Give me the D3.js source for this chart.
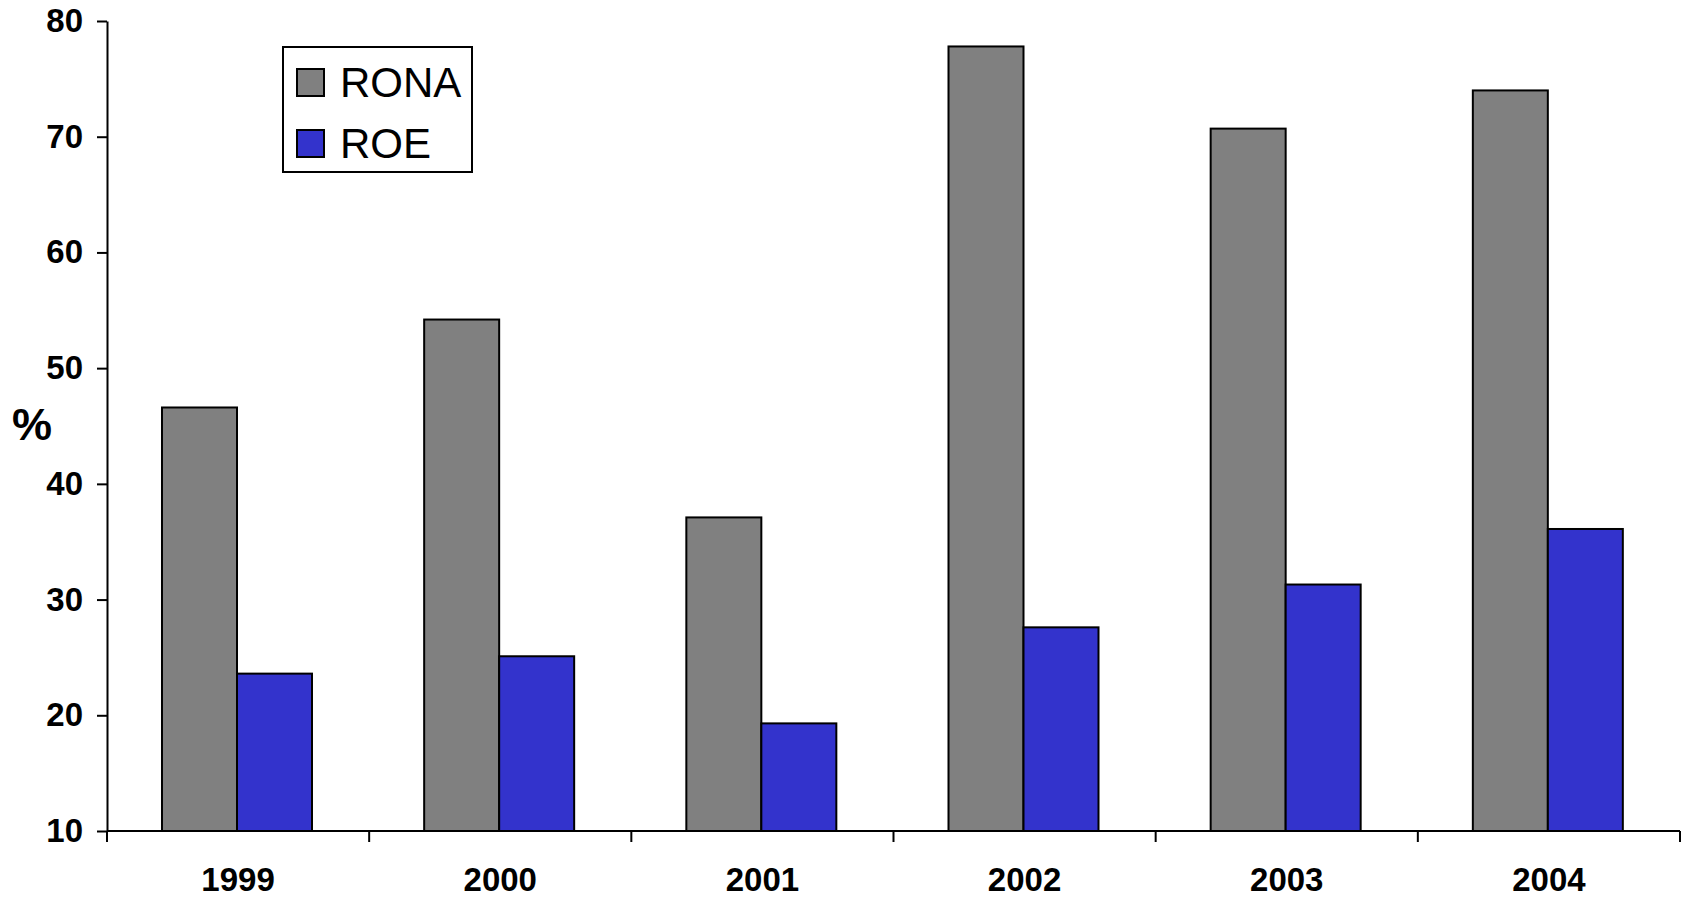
<!DOCTYPE html>
<meta charset="utf-8">
<style>
body { margin: 0; background: #fff; }
text { font-family: "Liberation Sans", Arial, sans-serif; fill: #000; }
.tick-label { font-weight: bold; font-size: 33px; }
.legend-label { font-size: 42px; }
</style>
<body>
<svg id="chart" width="1688" height="897"></svg>
<script src="https://d3js.org/d3.v7.min.js"></script>
<script>

var years = ["1999", "2000", "2001", "2002", "2003", "2004"];
var series = ["RONA", "ROE"];
var rona = [46.6, 54.2, 37.1, 77.8, 70.7, 74.0];
var roe = [23.6, 25.1, 19.3, 27.6, 31.3, 36.1];
var yTicks = [10, 20, 30, 40, 50, 60, 70, 80];
var colors = ["#808080", "#3333cc"];

var plotLeft = 107, plotRight = 1680, plotTop = 21, plotBottom = 831;

var svg = d3.select("#chart");

var x = d3.scaleBand()
    .domain(years)
    .range([plotLeft, plotRight]);

// two bars centred in each year slot
var xInner = d3.scaleBand()
    .domain(series)
    .range([55, 55 + 150]);

var y = d3.scaleLinear()
    .domain([10, 80])
    .range([plotBottom, plotTop]);

var color = d3.scaleOrdinal()
    .domain(series)
    .range(colors);

// bars
var rows = years.map((yr, i) => ({year: yr, values: [{s: "RONA", v: rona[i]}, {s: "ROE", v: roe[i]}]}));

var groups = svg.selectAll("g.year")
    .data(rows)
    .enter().append("g")
    .attr("class", "year")
    .attr("transform", d => "translate(" + x(d.year) + ",0)");

groups.selectAll("rect")
    .data(d => d.values)
    .enter().append("rect")
    .attr("x", d => xInner(d.s))
    .attr("width", xInner.bandwidth())
    .attr("y", d => y(d.v))
    .attr("height", d => y(10) - y(d.v))
    .attr("fill", d => color(d.s))
    .attr("stroke", "#000")
    .attr("stroke-width", 2);

// y axis
var yAxis = d3.axisLeft(y)
    .tickValues(yTicks)
    .tickSize(10)
    .tickPadding(14)
    .tickSizeOuter(0);

var gy = svg.append("g")
    .attr("transform", "translate(" + plotLeft + ",0)")
    .call(yAxis);
gy.select(".domain").attr("stroke", "#000").attr("stroke-width", 2);
gy.selectAll(".tick line").attr("stroke", "#000").attr("stroke-width", 2);
gy.selectAll(".tick text")
    .attr("class", "tick-label")
    .attr("fill", "#000");
gy.attr("font-size", null).attr("font-family", null);

// x axis: ticks at category boundaries, labels centred
var gx = svg.append("g")
    .attr("transform", "translate(0," + plotBottom + ")");
gx.append("line")
    .attr("x1", plotLeft).attr("x2", plotRight)
    .attr("stroke", "#000").attr("stroke-width", 2);
var bounds = years.map(d => x(d)).concat([x(years[years.length - 1]) + x.bandwidth()]);
gx.selectAll("line.tick")
    .data(bounds)
    .enter().append("line")
    .attr("class", "tick")
    .attr("x1", d => d).attr("x2", d => d)
    .attr("y1", 0).attr("y2", 11)
    .attr("stroke", "#000").attr("stroke-width", 2);
gx.selectAll("text")
    .data(years)
    .enter().append("text")
    .attr("class", "tick-label")
    .attr("x", d => x(d) + x.bandwidth() / 2)
    .attr("y", 60)
    .attr("text-anchor", "middle")
    .text(d => d);

// y axis title
svg.append("text")
    .attr("x", 32)
    .attr("y", 440)
    .attr("text-anchor", "middle")
    .attr("font-weight", "bold")
    .attr("font-size", 45)
    .text("%");

// legend
var legend = svg.append("g").attr("transform", "translate(283,47)");
legend.append("rect")
    .attr("width", 189).attr("height", 125)
    .attr("fill", "#fff").attr("stroke", "#000").attr("stroke-width", 2);
var items = legend.selectAll("g.item")
    .data(series)
    .enter().append("g")
    .attr("class", "item")
    .attr("transform", (d, i) => "translate(0," + (i * 61) + ")");
items.append("rect")
    .attr("x", 14).attr("y", 22)
    .attr("width", 27).attr("height", 27)
    .attr("fill", d => color(d))
    .attr("stroke", "#000").attr("stroke-width", 2);
items.append("text")
    .attr("class", "legend-label")
    .attr("x", 57).attr("y", 50)
    .text(d => d);

</script>
</body>
